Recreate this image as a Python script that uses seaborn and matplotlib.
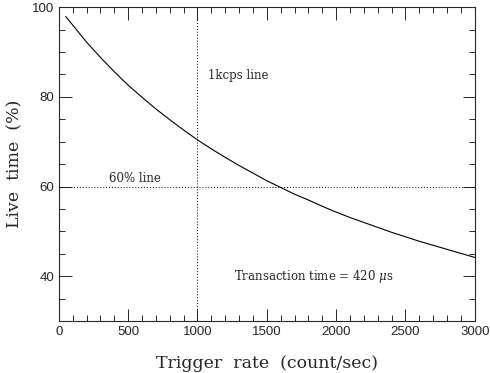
import matplotlib
matplotlib.use('Agg')
import matplotlib.pyplot as plt
import seaborn as sns
import pandas as pd
from matplotlib.ticker import MultipleLocator

# values
rate = [50, 100, 200, 300, 400, 500, 600, 700, 800, 900, 1000, 1100, 1200, 1300, 1400,
        1500, 1600, 1700, 1800, 1900, 2000, 2100, 2200, 2300, 2400, 2500, 2600, 2700,
        2800, 2900, 3000]
live = [97.9, 96.0, 92.2, 88.8, 85.6, 82.6, 79.9, 77.3, 74.9, 72.6, 70.4, 68.4, 66.5,
        64.7, 63.0, 61.3, 59.8, 58.3, 57.0, 55.6, 54.3, 53.1, 52.0, 50.9, 49.8, 48.8,
        47.8, 46.9, 46.0, 45.1, 44.2]
ref_rate = 1000
ref_live = 60

sns.set_style('ticks')
plt.rcParams['font.family'] = ['DejaVu Serif']
plt.rcParams['mathtext.fontset'] = 'dejavuserif'

df = pd.DataFrame({'rate': rate, 'live': live})

fig = plt.figure(figsize=(4.9, 3.73), dpi=100)
ax = fig.add_axes([0.120, 0.139, 0.849, 0.842])
sns.lineplot(data=df, x='rate', y='live', color='black', linewidth=0.8, ax=ax)
ax.axvline(ref_rate, color='black', linestyle=(0, (1, 2)), linewidth=0.7)
ax.axhline(ref_live, color='black', linestyle=(0, (1, 2)), linewidth=0.7)

ax.set_xlim(0, 3000)
ax.set_ylim(30, 100)
ax.xaxis.set_major_locator(MultipleLocator(500))
ax.xaxis.set_minor_locator(MultipleLocator(100))
ax.yaxis.set_major_locator(MultipleLocator(20))
ax.yaxis.set_minor_locator(MultipleLocator(5))
ax.tick_params(which='both', direction='in', top=True, right=True, labelsize=9.5, width=0.7)
ax.tick_params(which='major', length=9)
ax.tick_params(which='minor', length=4.5)
for lab in ax.get_xticklabels() + ax.get_yticklabels():
    lab.set_family('Liberation Sans')
for s in ax.spines.values():
    s.set_linewidth(0.8)

ax.set_xlabel('Trigger  rate  (count/sec)', fontsize=12.5, labelpad=12)
ax.set_ylabel('Live  time  (%)', fontsize=12.5)
ax.yaxis.set_label_coords(-0.085, 0.5)

ax.text(1075, 84.8, '1kcps line', fontsize=8.5, va='center')
ax.text(360, 61.7, '60% line', fontsize=8.5, va='center')
ax.text(1260, 40.0, r'Transaction time = 420 $\mu$s', fontsize=8.5, va='center')

fig.savefig('out.png', dpi=100)
